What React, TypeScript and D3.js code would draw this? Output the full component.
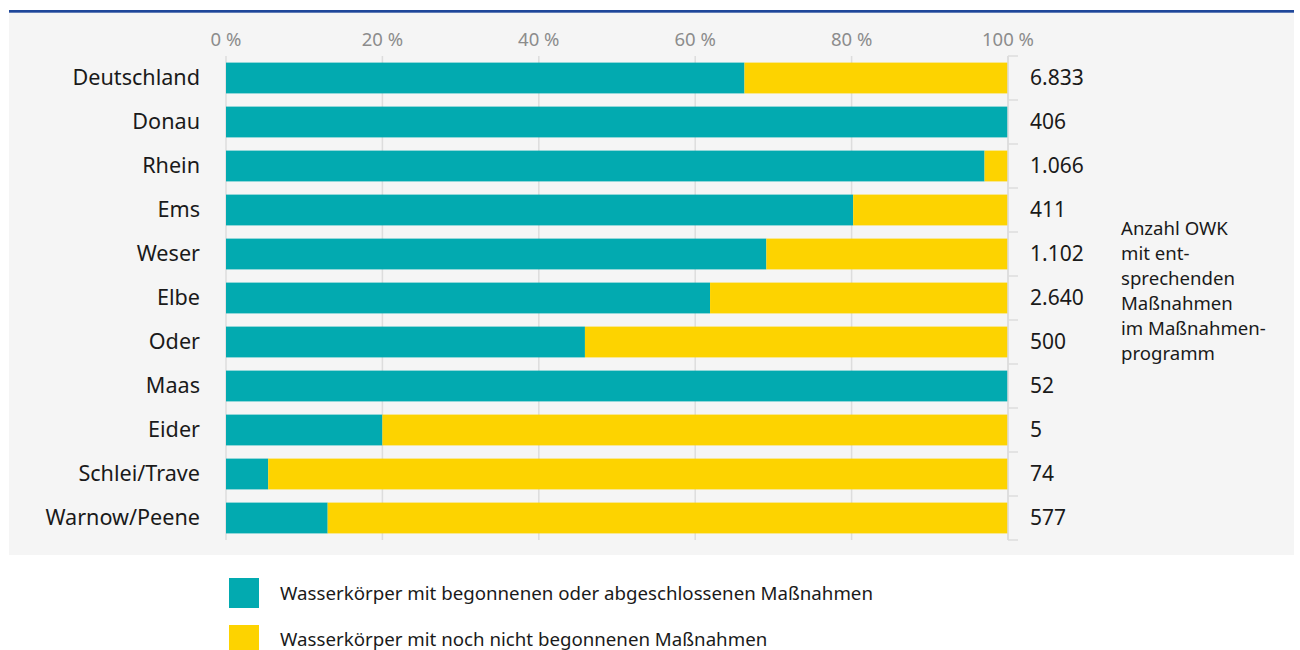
import React from "react";
import * as d3 from "d3";

const categories = ["Deutschland", "Donau", "Rhein", "Ems", "Weser", "Elbe", "Oder", "Maas", "Eider", "Schlei/Trave", "Warnow/Peene"];
const begonnen = [66.3, 100, 97.0, 80.2, 69.1, 61.9, 45.9, 100, 20.0, 5.4, 13.0];
const counts = ["6.833", "406", "1.066", "411", "1.102", "2.640", "500", "52", "5", "74", "577"];
const xTicks = [0, 20, 40, 60, 80, 100];
const noteLines = ["Anzahl OWK", "mit ent-", "sprechenden", "Maßnahmen", "im Maßnahmen-", "programm"];
const legendItems = [
  "Wasserkörper mit begonnenen oder abgeschlossenen Maßnahmen",
  "Wasserkörper mit noch nicht begonnenen Maßnahmen",
];

const TEAL = "#02aab0";
const YELLOW = "#fdd300";
const FONT = "'Noto Sans', sans-serif";

export default function App() {
  const W = 1300, H = 650;
  const x = d3.scaleLinear().domain([0, 100]).range([226, 1008]);
  const y = d3.scaleBand<string>().domain(categories).range([56, 540]).paddingInner(0.3).paddingOuter(0.15);
  const step = y.step();
  const boundaries = d3.range(categories.length + 1).map((i) => 56 + i * step);

  return (
    <svg width={W} height={H} style={{ position: "absolute", left: 0, top: 0, fontFamily: FONT }}>
      <rect x={0} y={0} width={W} height={H} fill="#ffffff" />
      <rect x={9} y={12.5} width={1285} height={542.5} fill="#f5f5f5" />
      <rect x={9} y={10} width={1285} height={2.7} fill="#1f479a" />

      {xTicks.map((t) => (
        <g key={t}>
          <line x1={x(t)} x2={x(t)} y1={56} y2={540} stroke="#dddddd" strokeWidth={1.5} />
          <text x={x(t)} y={46} textAnchor="middle" fontSize={18.5} fill="#8c8c8c">
            {t} %
          </text>
        </g>
      ))}

      {categories.map((c, i) => {
        const y0 = y(c)!;
        return (
          <g key={c}>
            <rect x={x(0)} y={y0} width={x(begonnen[i]) - x(0)} height={y.bandwidth()} fill={TEAL} />
            <rect x={x(begonnen[i])} y={y0} width={x(100) - x(begonnen[i])} height={y.bandwidth()} fill={YELLOW} />
            <text x={200} y={y0 + y.bandwidth() / 2} dy="0.33em" textAnchor="end" fontSize={21.6} fill="#1a1a1a">
              {c}
            </text>
            <text x={1030} y={y0 + y.bandwidth() / 2} dy="0.33em" fontSize={21} fill="#1a1a1a">
              {counts[i]}
            </text>
          </g>
        );
      })}

      <line x1={x(100)} x2={x(100)} y1={56} y2={540} stroke="#dddddd" strokeWidth={1.5} />
      {boundaries.map((b, i) => (
        <line key={i} x1={x(100)} x2={x(100) + 10} y1={b} y2={b} stroke="#dddddd" strokeWidth={1.5} />
      ))}

      {noteLines.map((l, i) => (
        <text key={i} x={1121} y={235 + i * 25} fontSize={18.6} fill="#1a1a1a">
          {l}
        </text>
      ))}

      {legendItems.map((l, i) => (
        <g key={l}>
          <rect x={229} y={578 + i * 47} width={30} height={30} fill={i === 0 ? TEAL : YELLOW} />
          <text x={280} y={593 + i * 46} dy="0.36em" fontSize={18.7} fill="#1a1a1a">
            {l}
          </text>
        </g>
      ))}
    </svg>
  );
}
